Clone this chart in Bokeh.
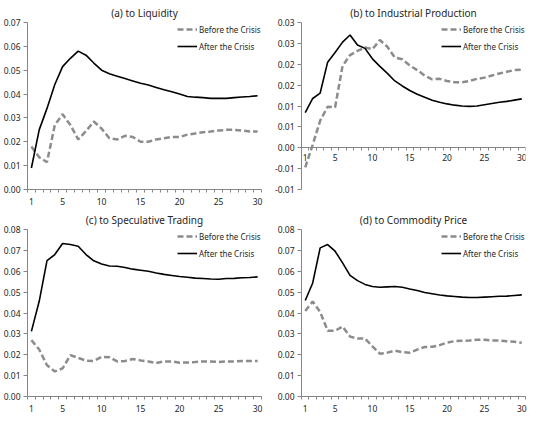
from bokeh.plotting import figure
from bokeh.layouts import gridplot
from bokeh.models import Range1d, FixedTicker, LinearAxis, Legend, LegendItem, ColumnDataSource
from bokeh.core.properties import value
from bokeh.embed import file_html
from bokeh.resources import INLINE

periods = [1, 2, 3, 4, 5, 6, 7, 8, 9, 10, 11, 12, 13, 14, 15,
           16, 17, 18, 19, 20, 21, 22, 23, 24, 25, 26, 27, 28, 29, 30]
x_tick_labels = [1, 5, 10, 15, 20, 25, 30]

titles = ["(a) to Liquidity", "(b) to Industrial Production",
          "(c) to Speculative Trading", "(d) to Commodity Price"]
series_names = ["Before the Crisis", "After the Crisis"]

before_a = [0.018, 0.0135, 0.0115, 0.027, 0.0315, 0.027, 0.021, 0.0245, 0.0285, 0.0255,
            0.0215, 0.021, 0.0225, 0.022, 0.020, 0.020, 0.021, 0.0215, 0.022, 0.022,
            0.023, 0.0235, 0.024, 0.0243, 0.0247, 0.025, 0.025, 0.0247, 0.0243, 0.0243]
after_a = [0.009, 0.025, 0.034, 0.044, 0.0515, 0.055, 0.058, 0.0563, 0.053, 0.050,
           0.0485, 0.0475, 0.0465, 0.0455, 0.0445, 0.0438, 0.0428, 0.0418, 0.041, 0.040,
           0.039, 0.0387, 0.0385, 0.0382, 0.0382, 0.0382, 0.0385, 0.0388, 0.039, 0.0393]

before_b = [-0.0047, 0.0007, 0.0065, 0.0098, 0.0097, 0.0196, 0.0222, 0.0232, 0.024, 0.0236,
            0.0258, 0.0242, 0.0216, 0.0212, 0.0197, 0.0186, 0.0173, 0.0164, 0.0165, 0.0160,
            0.0157, 0.0157, 0.0160, 0.0165, 0.0168, 0.0173, 0.0178, 0.0182, 0.0186, 0.0187]
after_b = [0.0084, 0.0118, 0.0131, 0.0205, 0.0228, 0.0253, 0.0270, 0.0246, 0.0238, 0.0213,
           0.0195, 0.0178, 0.0160, 0.0148, 0.0137, 0.0128, 0.0121, 0.0114, 0.0109, 0.0105,
           0.0102, 0.0100, 0.0099, 0.0100, 0.0103, 0.0106, 0.0109, 0.0111, 0.0114, 0.0117]

before_c = [0.027, 0.0225, 0.015, 0.012, 0.0135, 0.0198, 0.0185, 0.0172, 0.017, 0.019,
            0.0188, 0.0168, 0.017, 0.018, 0.0173, 0.0168, 0.016, 0.0168, 0.0168, 0.0162,
            0.0163, 0.0165, 0.0168, 0.0168, 0.0165, 0.0168, 0.0168, 0.017, 0.017, 0.017]
after_c = [0.0312, 0.0456, 0.0651, 0.068, 0.0733, 0.0728, 0.072, 0.068, 0.065, 0.0635,
           0.0625, 0.0624, 0.0618, 0.061, 0.0605, 0.060, 0.0592, 0.0585, 0.058, 0.0575,
           0.0571, 0.0567, 0.0565, 0.0563, 0.0562, 0.0565, 0.0566, 0.0569, 0.057, 0.0573]

before_d = [0.041, 0.0455, 0.0405, 0.0315, 0.0315, 0.0335, 0.0287, 0.0278, 0.0278, 0.024,
            0.0205, 0.021, 0.022, 0.0212, 0.021, 0.0225, 0.0237, 0.0238, 0.0246, 0.0258,
            0.0265, 0.0267, 0.0268, 0.0272, 0.0272, 0.0268, 0.0268, 0.0265, 0.0262, 0.0257]
after_d = [0.046, 0.0544, 0.0712, 0.0728, 0.0696, 0.064, 0.058, 0.0555, 0.0537, 0.0527,
           0.0523, 0.0525, 0.0527, 0.0523, 0.0515, 0.0508, 0.0498, 0.0492, 0.0486, 0.0482,
           0.0479, 0.0476, 0.0474, 0.0474, 0.0476, 0.0478, 0.048, 0.0481, 0.0484, 0.0487]

y_ticks_a = [0.0, 0.01, 0.02, 0.03, 0.04, 0.05, 0.06, 0.07]
y_labels_a = ["0.00", "0.01", "0.02", "0.03", "0.04", "0.05", "0.06", "0.07"]
y_ticks_b = [-0.01, -0.005, 0.0, 0.005, 0.01, 0.015, 0.02, 0.025, 0.03]
y_labels_b = ["-0.01", "-0.01", "0.00", "0.01", "0.01", "0.02", "0.02", "0.03", "0.03"]
y_ticks_cd = [0.0, 0.01, 0.02, 0.03, 0.04, 0.05, 0.06, 0.07, 0.08]
y_labels_cd = ["0.00", "0.01", "0.02", "0.03", "0.04", "0.05", "0.06", "0.07", "0.08"]

FONT = "Noto Sans"
AXIS_GRAY = "#868686"
TEXT = "#262626"
FRAME_H = 167


def panel(title, before, after, yticks, ylabels, left_border, frame_w, x_at_zero=False):
    p = figure(frame_width=frame_w, frame_height=FRAME_H, output_backend="svg",
               toolbar_location=None, x_axis_location=None, y_axis_location=None,
               min_border_left=left_border, min_border_right=5,
               min_border_top=0, min_border_bottom=10 if x_at_zero else 0)
    p.x_range = Range1d(periods[0] - 0.5, periods[-1] + 0.5)
    p.y_range = Range1d(yticks[0], yticks[-1])
    p.outline_line_color = None
    p.xgrid.visible = False
    p.ygrid.visible = False
    p.background_fill_color = "white"

    p.title.text = title
    p.title.align = "center"
    p.title.text_font = FONT
    p.title.text_font_size = "10px"
    p.title.text_font_style = "normal"
    p.title.text_color = TEXT
    p.title.standoff = 6

    yax = LinearAxis(ticker=FixedTicker(ticks=yticks, minor_ticks=[]))
    yax.major_label_overrides = {t: s for t, s in zip(yticks, ylabels)}
    yax.axis_line_color = AXIS_GRAY
    yax.major_tick_line_color = AXIS_GRAY
    yax.major_tick_out = 4
    yax.major_tick_in = 0
    yax.major_label_text_font = FONT
    yax.major_label_text_font_size = "8.5px"
    yax.major_label_text_color = TEXT
    yax.major_label_standoff = 3
    p.add_layout(yax, "left")

    bounds = [periods[0] - 0.5] + [v + 0.5 for v in periods]
    xax = LinearAxis(ticker=FixedTicker(ticks=x_tick_labels, minor_ticks=bounds))
    xax.axis_line_color = AXIS_GRAY
    xax.major_tick_line_color = None
    xax.minor_tick_line_color = AXIS_GRAY
    xax.minor_tick_out = 3
    xax.minor_tick_in = 0
    xax.major_label_text_font = FONT
    xax.major_label_text_font_size = "8.5px"
    xax.major_label_text_color = TEXT
    xax.major_label_standoff = 2
    if x_at_zero:
        xax.fixed_location = 0
        xax.major_label_text_alpha = 0
    p.add_layout(xax, "below")

    r1 = p.line(periods, before, line_color="#8c8c8c", line_width=2.5, line_dash="6 3")
    r2 = p.line(periods, after, line_color="black", line_width=1.6)

    if x_at_zero:
        src = ColumnDataSource(dict(x=x_tick_labels, y=[0.0] * len(x_tick_labels),
                                    t=[str(v) for v in x_tick_labels]))
        p.text(x="x", y="y", text="t", source=src, text_align="center",
               text_baseline="top", y_offset=6, text_font=value(FONT),
               text_font_size="8.5px", text_color=TEXT)

    leg = Legend(items=[LegendItem(label=series_names[0], renderers=[r1]),
                        LegendItem(label=series_names[1], renderers=[r2])],
                 location=(frame_w - 84, FRAME_H - 30))
    leg.border_line_color = None
    leg.background_fill_alpha = 0
    leg.label_text_font = FONT
    leg.label_text_font_size = "8px"
    leg.label_text_color = TEXT
    leg.glyph_width = 20
    leg.glyph_height = 12
    leg.label_height = 12
    leg.label_standoff = 2
    leg.spacing = 5
    leg.padding = 0
    leg.margin = 0
    p.add_layout(leg)
    return p


pa = panel(titles[0], before_a, after_a, y_ticks_a, y_labels_a, 25, 234)
pb = panel(titles[1], before_b, after_b, y_ticks_b, y_labels_b, 35, 224, x_at_zero=True)
pc = panel(titles[2], before_c, after_c, y_ticks_cd, y_labels_cd, 25, 234)
pd = panel(titles[3], before_d, after_d, y_ticks_cd, y_labels_cd, 35, 224)

grid = gridplot([[pa, pb], [pc, pd]], toolbar_location=None)

open("out.html", "w").write(file_html(grid, INLINE))
